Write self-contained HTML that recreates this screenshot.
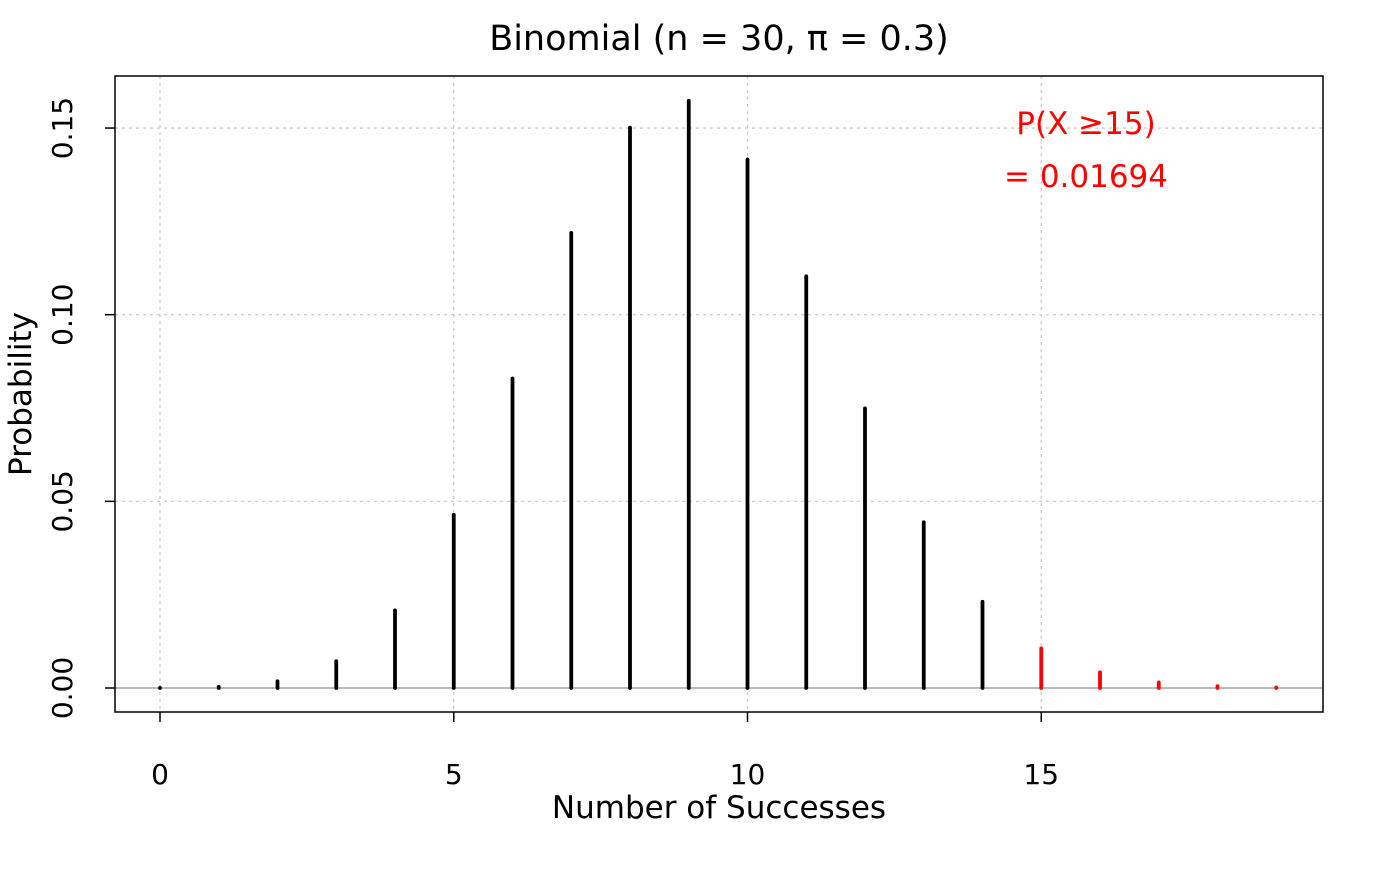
<!DOCTYPE html>
<html><head><meta charset="utf-8"><style>
body{margin:0;background:#fff}
svg text{font-family:"DejaVu Sans","Liberation Sans",sans-serif}
</style></head><body>
<svg id="chart" width="1400" height="866" xmlns="http://www.w3.org/2000/svg">
<text x="719" y="50" font-size="35" text-anchor="middle">Binomial (n = 30, π = 0.3)</text>
<g id="grid"></g>
<g id="bars"></g>
<rect x="115" y="76" width="1208" height="636" fill="none" stroke="#000" stroke-width="1.5"/>
<g id="axes"></g>
<text x="719" y="818" font-size="31" text-anchor="middle">Number of Successes</text>
<text transform="translate(31,394) rotate(-90)" font-size="31" text-anchor="middle">Probability</text>
<text x="1086" y="134" font-size="31" fill="red" text-anchor="middle">P(X ≥15)</text>
<text x="1086" y="187" font-size="31" fill="red" text-anchor="middle">= 0.01694</text>
</svg>
<script>
const successes=[0,1,2,3,4,5,6,7,8,9,10,11,12,13,14,15,16,17,18,19];
const probabilities=[0.0000225,0.00029,0.0018,0.0072,0.0208,0.0464,0.0829,0.1219,0.1501,0.1573,0.1416,0.1103,0.0749,0.0444,0.0231,0.0106,0.0042,0.0015,0.0005,0.00012];
const xTicks=[0,5,10,15];
const yTicks=[0,0.05,0.10,0.15];
const yTickLabels=["0.00","0.05","0.10","0.15"];
const threshold=15;
const NS="http://www.w3.org/2000/svg";
const xs=v=>160+v*58.75;
const ys=v=>688-v*3733;
function mk(tag,attrs,parent){const e=document.createElementNS(NS,tag);for(const k in attrs)e.setAttribute(k,attrs[k]);document.getElementById(parent).appendChild(e);return e;}
xTicks.forEach(t=>{
 const g=mk('line',{x1:xs(t),x2:xs(t),y1:76,y2:712,stroke:'#ccc','stroke-dasharray':'3,4','stroke-width':1.3},'grid');
 
 
 const tk=mk('line',{x1:xs(t),x2:xs(t),y1:712,y2:722,stroke:'#000','stroke-width':1.5},'axes');
 
 
 const tx=mk('text',{x:xs(t),y:784,'font-size':28,'text-anchor':'middle'},'axes');
 tx.textContent=t;
 
 
});
yTicks.forEach((t,i)=>{
 if(t>0){const g=mk('line',{x1:115,x2:1323,y1:ys(t),y2:ys(t),stroke:'#ccc','stroke-dasharray':'3,4','stroke-width':1.3},'grid');
 
 }
 const tk=mk('line',{x1:105,x2:115,y1:ys(t),y2:ys(t),stroke:'#000','stroke-width':1.5},'axes');
 
 
 const tx=mk('text',{transform:`translate(72,${ys(t)}) rotate(-90)`,'font-size':28,'text-anchor':'middle'},'axes');
 tx.textContent=yTickLabels[i];
 
 
});
const base=mk('line',{x1:115,x2:1323,y1:ys(0),y2:ys(0),stroke:'#bbb','stroke-width':2},'grid');


successes.forEach((k,i)=>{
 const b=mk('line',{x1:xs(k),x2:xs(k),y1:ys(0),y2:ys(probabilities[i]),stroke:k>=threshold?'red':'#000','stroke-width':3.8,'stroke-linecap':'round'},'bars');
 
 
});
</script>
</body></html>
